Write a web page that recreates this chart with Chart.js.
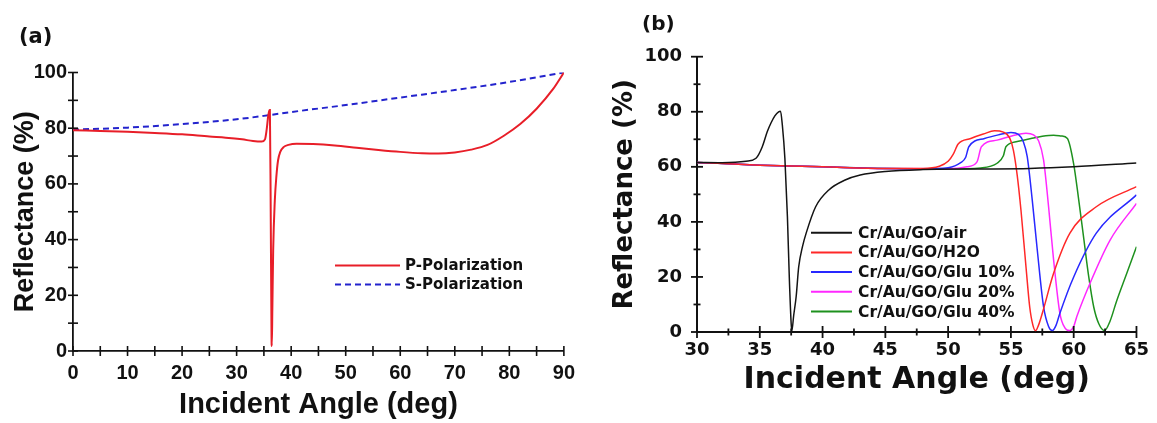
<!DOCTYPE html>
<html>
<head>
<meta charset="utf-8">
<script src="https://cdn.jsdelivr.net/npm/chart.js@4.4.1/dist/chart.umd.min.js"></script>
<style>
  body { margin: 0; background: #fff; width: 1157px; height: 423px; overflow: hidden; position: relative; }
  #wrapA { position: absolute; left: 0; top: 0; width: 585px; height: 423px; }
  #wrapB { position: absolute; left: 585px; top: 0; width: 572px; height: 423px; }
  .tag { position: absolute; font-family: 'DejaVu Sans'; font-weight: bold; color: #111; }
</style>
</head>
<body>
<div id="wrapA"><canvas id="chartA"></canvas></div>
<div id="wrapB"><canvas id="chartB"></canvas></div>
<div class="tag" style="left:19px;top:24px;font-size:21px">(a)</div>
<div class="tag" style="left:642px;top:11px;font-size:20px">(b)</div>
<script>
// ---- panel (a) ----
const pAngle = [0, 5, 10, 15, 20, 25, 28, 31, 33, 34.6, 35.2, 35.5, 35.8, 36.0, 36.1, 36.25, 36.4, 36.45, 36.55, 36.7, 37.0, 37.3, 37.6, 38.0, 38.6, 39.5, 41, 44, 48, 52, 56, 60, 64, 67, 70, 73, 76, 79, 82, 85, 88, 90];
const pRefl  = [79.3, 79.0, 78.7, 78.3, 77.8, 77.0, 76.6, 76.0, 75.4, 75.2, 76.0, 79.4, 84.5, 86.3, 86.5, 50, 5, 1.8, 15, 36, 54, 63, 68.5, 71.5, 73.2, 74.0, 74.4, 74.3, 73.8, 73.0, 72.2, 71.5, 71.0, 70.9, 71.3, 72.3, 74.0, 77.3, 81.5, 87, 94, 100];
const sAngle = [0, 10, 20, 30, 36, 40, 50, 60, 70, 80, 90];
const sRefl  = [79.5, 80.2, 81.5, 83.2, 84.7, 85.8, 88.3, 91.0, 93.7, 96.6, 100];

// ---- panel (b) ----
const airAngle = [30, 32, 33.9, 34.7, 35.2, 35.6, 35.9, 36.2, 36.5, 36.65, 36.8, 37.0, 37.2, 37.35, 37.5, 37.55, 37.7, 37.9, 38.1, 38.4, 38.7, 39.45, 40.5, 41.8, 43, 45, 48, 52, 56.5, 60, 65];
const airRefl  = [61.6, 61.5, 62, 63.1, 67.3, 72.8, 76, 78.5, 80, 80.2, 75, 63, 42, 20, 3, 0.3, 6, 13, 23.7, 31, 36, 45.5, 51.6, 55.2, 57, 58.3, 59, 59.2, 59.4, 60, 61.4];
const h2oAngle = [30, 35, 40, 45, 48, 49.3, 50.0, 50.4, 50.8, 51.8, 52.8, 53.7, 54.4, 54.9, 55.2, 55.5, 55.8, 56.2, 56.5, 56.75, 56.96, 57.2, 57.5, 58.4, 59.7, 61.8, 65];
const h2oRefl  = [61.6, 60.6, 60.0, 59.4, 59.4, 60.2, 62.0, 64.5, 68.3, 70.3, 71.9, 73.1, 72.6, 70.5, 66, 57, 44.3, 23.7, 9, 2.5, 0.5, 2.5, 6.8, 21.3, 35.9, 45.5, 52.8];
const glu10Angle = [30, 35, 40, 45, 48, 50, 51.0, 51.4, 51.65, 52.9, 54.0, 55.0, 55.6, 56.0, 56.3, 56.7, 57.1, 57.6, 58.0, 58.3, 58.6, 58.9, 60.0, 61.8, 65];
const glu10Refl  = [61.6, 60.6, 60.0, 59.4, 59.3, 59.7, 61.5, 63.5, 67.3, 70.3, 71.6, 72.5, 71.8, 69, 63.7, 47.9, 29.8, 9.2, 2, 0.5, 2.5, 6.8, 20, 35.9, 49.8];
const glu20Angle = [30, 35, 40, 45, 50, 51.5, 52.3, 52.65, 53.9, 55.2, 56.2, 56.8, 57.2, 57.6, 58.0, 58.4, 58.9, 59.3, 59.65, 60.0, 60.25, 61.3, 62.9, 65];
const glu20Refl  = [61.6, 60.6, 60.0, 59.4, 59.3, 60.0, 61.8, 67.3, 69.7, 71.4, 72.2, 71.6, 69.5, 62.5, 45.5, 26.2, 6.8, 1.5, 0.5, 2, 5.6, 17.7, 33.4, 46.7];
const glu40Angle = [30, 35, 40, 45, 50, 52.6, 53.9, 54.4, 54.6, 55.5, 56.6, 57.5, 58.4, 59.0, 59.5, 60.0, 60.4, 60.8, 61.2, 61.6, 62.0, 62.45, 62.9, 63.4, 64.2, 65];
const glu40Refl  = [61.6, 60.6, 60.0, 59.4, 59.2, 59.6, 61.3, 64, 67.3, 69.2, 70.3, 71.1, 71.5, 71.2, 70.3, 61, 48, 34, 20, 9, 3, 0.5, 4, 11, 21, 31];

const pts = (xs, ys) => xs.map((x, i) => ({ x: x, y: ys[i] }));

Chart.defaults.color = '#111';
Chart.defaults.font.family = "'Liberation Sans', Arial, sans-serif";

// tick marks that cross the axis line
const crossTicks = {
    id: 'crossTicks',
    afterDraw(chart, args, opts) {
        const ctx = chart.ctx;
        const xs = chart.scales.x, ys = chart.scales.y;
        const ax = chart.chartArea.left, ay = chart.chartArea.bottom;
        ctx.save();
        ctx.strokeStyle = '#111';
        ctx.lineWidth = opts.width;
        xs.ticks.forEach(t => {
            const px = xs.getPixelForValue(t.value);
            const len = Math.abs(t.value % opts.xLabelStep) < 1e-6 ? opts.major : opts.minor;
            ctx.beginPath(); ctx.moveTo(px, ay - len); ctx.lineTo(px, ay + len); ctx.stroke();
        });
        ys.ticks.forEach(t => {
            const py = ys.getPixelForValue(t.value);
            const len = Math.abs(t.value % opts.yLabelStep) < 1e-6 ? opts.major : opts.minor;
            ctx.beginPath(); ctx.moveTo(ax - len, py); ctx.lineTo(ax + len, py); ctx.stroke();
        });
        ctx.restore();
    }
};

// legend drawn inside the plot
const boxLegend = {
    id: 'boxLegend',
    afterDraw(chart, args, opts) {
        const ctx = chart.ctx;
        const ca = chart.chartArea;
        ctx.save();
        ctx.font = opts.font;
        ctx.textBaseline = 'middle';
        ctx.fillStyle = '#111';
        chart.data.datasets.forEach((ds, i) => {
            const y = ca.top + opts.top + i * opts.row;
            const x0 = ca.left + opts.left;
            ctx.strokeStyle = ds.borderColor;
            ctx.lineWidth = opts.lineWidth;
            ctx.setLineDash(ds.borderDash || []);
            ctx.beginPath(); ctx.moveTo(x0, y); ctx.lineTo(x0 + opts.lineLen, y); ctx.stroke();
            ctx.setLineDash([]);
            ctx.fillText(ds.label, x0 + opts.lineLen + opts.gap, y + 1);
        });
        ctx.restore();
    }
};

const chartA = new Chart(document.getElementById('chartA'), {
    type: 'line',
    data: {
        datasets: [{
            label: 'P-Polarization',
            data: pts(pAngle, pRefl),
            borderColor: 'rgb(232, 30, 40)',
            borderWidth: 2,
            pointRadius: 0,
            cubicInterpolationMode: 'monotone'
        },
        {
            label: 'S-Polarization',
            data: pts(sAngle, sRefl),
            borderColor: 'rgb(35, 35, 205)',
            borderWidth: 2,
            borderDash: [6, 4],
            pointRadius: 0,
            cubicInterpolationMode: 'monotone'
        }]
    },
    options: {
        animation: false,
        responsive: true,
        maintainAspectRatio: false,
        layout: { padding: { top: 72.5, right: 17, left: 0, bottom: 0 } },
        plugins: {
            legend: { display: false },
            tooltip: { enabled: false },
            crossTicks: { width: 1.6, major: 5, minor: 5, xLabelStep: 10, yLabelStep: 20 },
            boxLegend: { font: "bold 15px 'DejaVu Sans'", left: 262, top: 193, row: 19, lineLen: 65, gap: 5, lineWidth: 2 }
        },
        scales: {
            x: {
                type: 'linear', min: 0, max: 90,
                afterFit: s => { s.height = 72; },
                border: { display: true, color: '#111', width: 1.8 },
                grid: { display: false, drawTicks: false },
                ticks: {
                    stepSize: 5, autoSkip: false, maxRotation: 0, padding: 10,
                    font: { size: 20, weight: 'bold' },
                    callback: v => (v % 10 === 0 ? v : '')
                },
                title: {
                    display: true, text: 'Incident Angle (deg)',
                    font: { size: 29, weight: 'bold' },
                    padding: { top: 0, bottom: 1 }
                }
            },
            y: {
                min: 0, max: 100,
                afterFit: s => { s.width = 73; },
                border: { display: true, color: '#111', width: 1.8 },
                grid: { display: false, drawTicks: false },
                ticks: {
                    stepSize: 10, autoSkip: false, padding: 6,
                    font: { size: 20, weight: 'bold' },
                    callback: v => (v % 20 === 0 ? v : '')
                },
                title: {
                    display: true, text: 'Reflectance (%)',
                    font: { size: 27, weight: 'bold' },
                    padding: { top: 9, bottom: 0 }
                }
            }
        }
    },
    plugins: [crossTicks, boxLegend]
});

const chartB = new Chart(document.getElementById('chartB'), {
    type: 'line',
    data: {
        datasets: [
            { label: 'Cr/Au/GO/air', data: pts(airAngle, airRefl), borderColor: 'rgb(20, 20, 20)' },
            { label: 'Cr/Au/GO/H2O', data: pts(h2oAngle, h2oRefl), borderColor: 'rgb(255, 40, 40)' },
            { label: 'Cr/Au/GO/Glu 10%', data: pts(glu10Angle, glu10Refl), borderColor: 'rgb(40, 40, 255)' },
            { label: 'Cr/Au/GO/Glu 20%', data: pts(glu20Angle, glu20Refl), borderColor: 'rgb(255, 40, 255)' },
            { label: 'Cr/Au/GO/Glu 40%', data: pts(glu40Angle, glu40Refl), borderColor: 'rgb(30, 145, 30)' }
        ]
    },
    options: {
        animation: false,
        responsive: true,
        maintainAspectRatio: false,
        datasets: { line: { borderWidth: 1.5, pointRadius: 0, cubicInterpolationMode: 'monotone' } },
        layout: { padding: { top: 56.7, right: 17, left: 0, bottom: 0 } },
        plugins: {
            legend: { display: false },
            tooltip: { enabled: false },
            crossTicks: { width: 1.8, major: 6, minor: 3.5, xLabelStep: 5, yLabelStep: 20 },
            boxLegend: { font: "bold 15.5px 'DejaVu Sans'", left: 114, top: 176, row: 19.7, lineLen: 41, gap: 6, lineWidth: 2 }
        },
        scales: {
            x: {
                type: 'linear', min: 30, max: 65,
                afterFit: s => { s.height = 91; },
                border: { display: true, color: '#111', width: 2 },
                grid: { display: false, drawTicks: false },
                ticks: {
                    stepSize: 2.5, autoSkip: false, maxRotation: 0, padding: 8,
                    font: { family: "'DejaVu Sans'", size: 18, weight: 'bold' },
                    callback: v => (v % 5 === 0 ? v : '')
                },
                title: {
                    display: true, text: 'Incident Angle (deg)',
                    font: { family: "'DejaVu Sans'", size: 30, weight: 'bold' },
                    padding: { top: 0, bottom: 25 }
                }
            },
            y: {
                min: 0, max: 100,
                afterFit: s => { s.width = 112; },
                border: { display: true, color: '#111', width: 2 },
                grid: { display: false, drawTicks: false },
                ticks: {
                    stepSize: 10, autoSkip: false, padding: 15,
                    font: { family: "'DejaVu Sans'", size: 18, weight: 'bold' },
                    callback: v => (v % 20 === 0 ? v : '')
                },
                title: {
                    display: true, text: 'Reflectance (%)',
                    font: { family: "'DejaVu Sans'", size: 26, weight: 'bold' },
                    padding: { top: 25, bottom: 0 }
                }
            }
        }
    },
    plugins: [crossTicks, boxLegend]
});
</script>
</body>
</html>
